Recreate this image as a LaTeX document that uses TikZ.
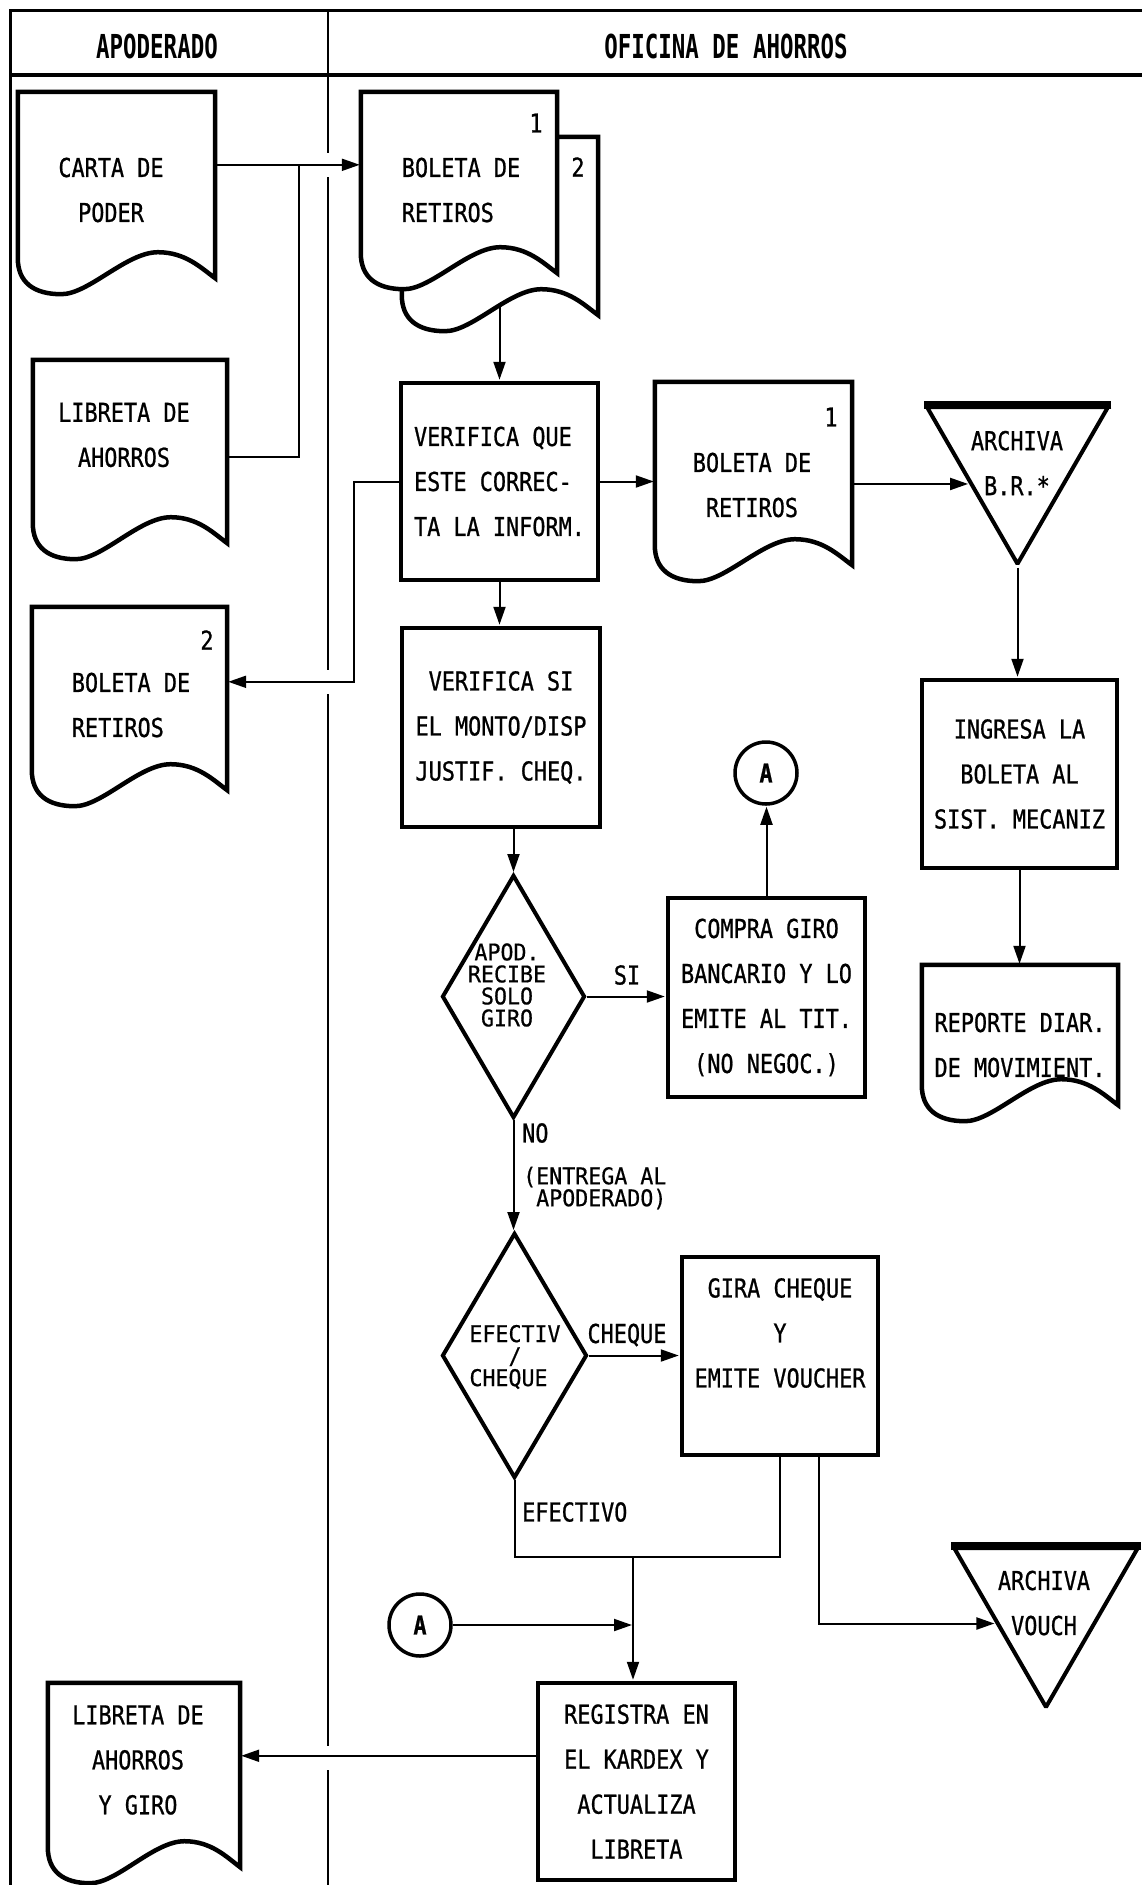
\documentclass[tikz,border=0pt]{standalone}
\usepackage{fontspec}
\usetikzlibrary{calc,arrows.meta,shapes.geometric}
\newfontfamily\plotfont[FakeStretch=0.84,FakeBold=0.8]{DejaVu Sans Mono}
\newfontfamily\smallplotfont[FakeStretch=0.94,FakeBold=0.6]{DejaVu Sans Mono}
\newfontfamily\headfont[FakeStretch=0.68]{DejaVu Sans Mono}
\pgfdeclarelayer{bg}
\pgfsetlayers{bg,main}

% document symbol: body node plus outline with a wavy bottom edge
% #1 name, #2 left, #3 top, #4 right, #5 bottom of the left side
\newcommand\docshape[5]{%
  \node[docarea, minimum width={(#4-#2)*1pt}, minimum height={(#5-#3)*1pt}]
    (#1) at ({(#2+#4)/2},{(#3+#5)/2}) {};
  \draw[shapeline, fill=white] (#1.south west) -- (#1.north west) -- (#1.north east)
    -- ($(#1.south east)+(0,20)$)
    .. controls ($(#1.south west)!0.93!(#1.south east)+(0,10)$)
            and ($(#1.south west)!0.85!(#1.south east)+(0,-6)$)
    .. ($(#1.south west)!0.71!(#1.south east)+(0,-6)$)
    .. controls ($(#1.south west)!0.55!(#1.south east)+(0,-6)$)
            and ($(#1.south west)!0.36!(#1.south east)+(0,36)$)
    .. ($(#1.south west)!0.22!(#1.south east)+(0,36)$)
    .. controls ($(#1.south west)!0.08!(#1.south east)+(0,36)$)
            and ($(#1.south west)+(0,24)$)
    .. (#1.south west) -- cycle;
}

\begin{document}
\begin{tikzpicture}[x=1pt, y=-1pt,
  txt/.style={inner sep=0pt, font={\plotfont\fontsize{26pt}{45pt}\selectfont}},
  dtxt/.style={inner sep=0pt, align=center, font={\smallplotfont\fontsize{23pt}{22pt}\selectfont}},
  headtxt/.style={inner sep=0pt, font={\headfont\bfseries\fontsize{33pt}{34pt}\selectfont}},
  shapeline/.style={line width=4.5pt, line join=miter},
  docarea/.style={rectangle, draw=none, inner sep=0pt},
  procbox/.style={rectangle, draw, shapeline, fill=white, inner sep=0pt, txt},
  decision/.style={diamond, draw, line width=4pt, fill=white, inner sep=0pt},
  archive/.style={regular polygon, regular polygon sides=3, shape border rotate=180,
    draw, line width=4pt, line join=bevel, fill=white, inner sep=0pt},
  conn/.style={circle, draw, line width=3.5pt, fill=white, minimum size=62pt, inner sep=0pt,
    font={\plotfont\bfseries\fontsize{26pt}{30pt}\selectfont}},
  conline/.style={draw, line width=2pt},
  arr/.style={conline, -{Triangle[length=18pt,width=12pt]}, shorten >=1pt}
]
\useasboundingbox (0,0) rectangle (1142,1885);
\begin{pgfonlayer}{bg}
  \fill[white] (0,0) rectangle (1142,1885);
\end{pgfonlayer}

% swimlane frame
\draw[line width=3pt] (1142,10) -- (10,10) -- (10,1885);
\draw[line width=4pt] (10,75) -- (1142,75);
\draw[line width=2pt] (328,10) -- (328,153) (328,177) -- (328,670)
  (328,694) -- (328,1746) (328,1770) -- (328,1885);
\node[headtxt] (h-apod) at (157,46) {APODERADO};
\node[headtxt] (h-ofi) at (726,46) {OFICINA DE AHORROS};

% lane APODERADO
\docshape{carta}{18}{92}{215}{258}
\node[txt, align=center] (carta-t) at (111,190) {CARTA DE\\PODER};
\docshape{libreta}{33}{360}{227}{523}
\node[txt, align=center] (libreta-t) at (124,435) {LIBRETA DE\\AHORROS};
\docshape{bol2}{32}{607}{227}{770}
\node[txt, align=left] (bol2-t) at (131,705) {BOLETA DE\\RETIROS};
\node[txt] (bol2-n) at (207,640) {2};
\docshape{lyg}{48}{1683}{240}{1847}
\node[txt, align=center] (lyg-t) at (138,1760) {LIBRETA DE\\AHORROS\\Y GIRO};

% lane OFICINA DE AHORROS
\docshape{bolB}{402}{137}{598}{295}
\docshape{bolA}{361}{92}{557}{253}
\node[txt, align=left] (bolA-t) at (461,190) {BOLETA DE\\RETIROS};
\node[txt] (bolA-n) at (536,123) {1};
\node[txt] (bolB-n) at (578,167) {2};

\node[procbox, minimum width=197pt, minimum height=197pt, align=left]
  (verif1) at (499.5,481.5) {VERIFICA QUE\\ESTE CORREC-\\TA LA INFORM.};
\docshape{bol1}{655}{382}{852}{545}
\node[txt, align=center] (bol1-t) at (752,485) {BOLETA DE\\RETIROS};
\node[txt] (bol1-n) at (831,417) {1};
\node[archive, minimum size=209pt] (arch1) at (1017.5,459.3) {};
\draw[line width=8pt] (arch1.corner 2) -- (arch1.corner 3);
\node[txt, align=center] (arch1-t) at (1017,463) {ARCHIVA\\B.R.*};

\node[procbox, minimum width=195pt, minimum height=188pt, align=center]
  (ingresa) at (1019.5,774) {INGRESA LA\\BOLETA AL\\SIST. MECANIZ};
\docshape{rep}{922}{965}{1118}{1085}
\node[txt, align=left] (rep-t) at (1020,1045) {REPORTE DIAR.\\DE MOVIMIENT.};

\node[procbox, minimum width=198pt, minimum height=199pt, align=center]
  (verif2) at (501,727.5) {VERIFICA SI\\EL MONTO/DISP\\JUSTIF. CHEQ.};

\node[decision, minimum width=143pt, minimum height=243pt] (d1) at (513.5,996.5) {};
\node[dtxt] (d1-t) at (507,985) {APOD.\\RECIBE\\SOLO\\GIRO};
\node[procbox, minimum width=197pt, minimum height=199pt, align=center]
  (compra) at (766.5,997.5) {COMPRA GIRO\\BANCARIO Y LO\\EMITE AL TIT.\\(NO NEGOC.)};
\node[conn] (A1) at (766,773) {A};
\node[txt] (si) at (627,975) {SI};
\node[txt, anchor=west] (no) at (522,1133) {NO};
\node[dtxt, align=left, anchor=west] (entrega) at (523,1188) {(ENTREGA AL\\\phantom{(}APODERADO)};

\node[decision, minimum width=145pt, minimum height=245pt] (d2) at (514.5,1355.5) {};
\node[dtxt, align=left] (d2-t) at (515,1357) {EFECTIV\\\phantom{EFE}/\\CHEQUE};
\node[txt] (cheq) at (627,1335) {CHEQUE};
\node[procbox, minimum width=196pt, minimum height=198pt] (gira) at (780,1356) {};
\node[txt, align=center] (gira-t) at (780,1333) {GIRA CHEQUE\\Y\\EMITE VOUCHER};
\node[txt, anchor=west] (efec) at (522,1512) {EFECTIVO};

\node[archive, minimum size=212pt] (arch2) at (1046,1601) {};
\draw[line width=8pt] (arch2.corner 2) -- (arch2.corner 3);
\node[txt, align=center] (arch2-t) at (1044,1603) {ARCHIVA\\VOUCH};
\node[conn] (A2) at (420,1625) {A};
\node[procbox, minimum width=197pt, minimum height=197pt, align=center]
  (registra) at (636.5,1781.5) {REGISTRA EN\\EL KARDEX Y\\ACTUALIZA\\LIBRETA};

% connectors
\begin{pgfonlayer}{bg}
  \coordinate (cy) at ($(carta.north east)+(0,73)$);
  \draw[arr] (cy) -- (cy -| bolA.west);
  \coordinate (ly) at ($(libreta.north east)+(0,97)$);
  \draw[conline] (ly) -| ($(cy)+(84,0)$);
  \draw[arr] (bolB.south -| verif1.north) -- (verif1.north);
  \draw[arr] (verif1.east) -- (verif1.east -| bol1.west);
  \draw[arr] (bol1.east |- arch1.207) -- (arch1.207);
  \draw[arr] (arch1.corner 1) -- (arch1.corner 1 |- ingresa.north);
  \draw[arr] (ingresa.south) -- (ingresa.south |- rep.north);
  \draw[arr] (verif1.south) -- (verif1.south |- verif2.north);
  \coordinate (vb) at ($(bol2.north east)+(0,75)$);
  \draw[arr] (verif1.west) -| ($(vb)+(127,0)$) -- (vb);
  \draw[arr] (d1.north |- verif2.south) -- (d1.north);
  \draw[arr] (d1.east) -- (d1.east -| compra.west);
  \draw[arr] (compra.north) -- (compra.north |- A1.south);
  \draw[arr] (d1.south) -- (d1.south |- d2.north);
  \draw[arr] (d2.east) -- (d2.east -| gira.west);
  \coordinate (mg) at (633,1557);
  \draw[conline] (d2.south) |- (mg) -| (gira.south);
  \draw[arr] (mg) -- (mg |- registra.north);
  \draw[arr] (A2.east) -- (A2.east -| mg);
  \coordinate (gv) at ($(gira.south)+(39,0)$);
  \draw[arr] (gv) |- (arch2.204);
  \coordinate (rl) at ($(registra.north west)+(0,75)$);
  \draw[arr] (rl) -- (rl -| lyg.east);
\end{pgfonlayer}
\end{tikzpicture}
\end{document}
